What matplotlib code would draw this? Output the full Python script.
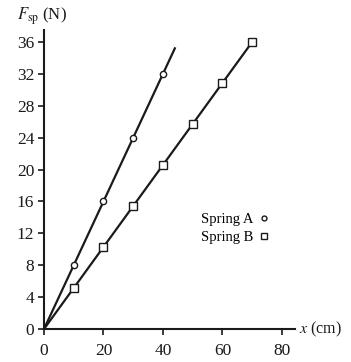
import matplotlib
matplotlib.use("Agg")
import matplotlib.pyplot as plt
from matplotlib.lines import Line2D

plt.rcParams['font.family'] = ['Liberation Serif', 'DejaVu Serif']
plt.rcParams['mathtext.fontset'] = 'stix'

# Data
spring_a_x = [10, 20, 30, 40]
spring_a_f = [8, 16, 24, 32]
spring_a_fit_x = [0, 44]
spring_a_fit_f = [0, 35.2]

spring_b_x = [10, 20, 30, 40, 50, 60, 70]
spring_b_f = [5.1, 10.3, 15.4, 20.6, 25.7, 30.9, 36]
spring_b_fit_x = [0, 70]
spring_b_fit_f = [0, 36]

x_ticks = [0, 20, 40, 60, 80]
y_ticks = [0, 4, 8, 12, 16, 20, 24, 28, 32, 36]

W, H = 351, 362
fig = plt.figure(figsize=(W / 100, H / 100), dpi=100)
ax = fig.add_axes([44 / W, 33 / H, 251 / W, 299 / H])

col = '#1a1a1a'
ax.plot(spring_a_fit_x, spring_a_fit_f, color=col, lw=1.6, zorder=2)
ax.plot(spring_b_fit_x, spring_b_fit_f, color=col, lw=1.6, zorder=2)
ax.plot(spring_a_x, spring_a_f, 'o', ms=4.5, mfc='white', mec=col, mew=1.0, zorder=3)
ax.plot(spring_b_x, spring_b_f, 's', ms=5.5, mfc='white', mec=col, mew=1.0, zorder=3)

ax.set_xlim(0, 84.4)
ax.set_ylim(0, 37.5)
ax.set_xticks(x_ticks)
ax.set_yticks(y_ticks)
ax.spines['top'].set_visible(False)
ax.spines['right'].set_visible(False)
for s in ['left', 'bottom']:
    ax.spines[s].set_linewidth(1.5)
    ax.spines[s].set_color(col)
ax.tick_params(axis='both', direction='out', length=4, width=1.2, colors=col, labelsize=12.5, pad=3)
ax.tick_params(axis='x', pad=6)

fig.text(17 / W, 1 - 20 / H, r'$F_{\rm sp}$ (N)', fontsize=12, color=col, va='baseline', ha='left')
fig.text(299 / W, 1 - 329 / H, r'$x$ (cm)', fontsize=11.5, color=col, va='center', ha='left')

handles = [
    Line2D([], [], marker='o', ls='none', ms=3.5, mfc='white', mec=col, mew=1.0),
    Line2D([], [], marker='s', ls='none', ms=3.8, mfc='white', mec=col, mew=1.0),
]
fig.legend(handles, ['Spring A', 'Spring B'], loc='upper left',
           bbox_to_anchor=(188 / W, 1 - 200 / H), frameon=False,
           markerfirst=False, handlelength=0.6, handletextpad=0.4,
           fontsize=10.5, labelspacing=0.3)

fig.savefig('out.png', dpi=100)
